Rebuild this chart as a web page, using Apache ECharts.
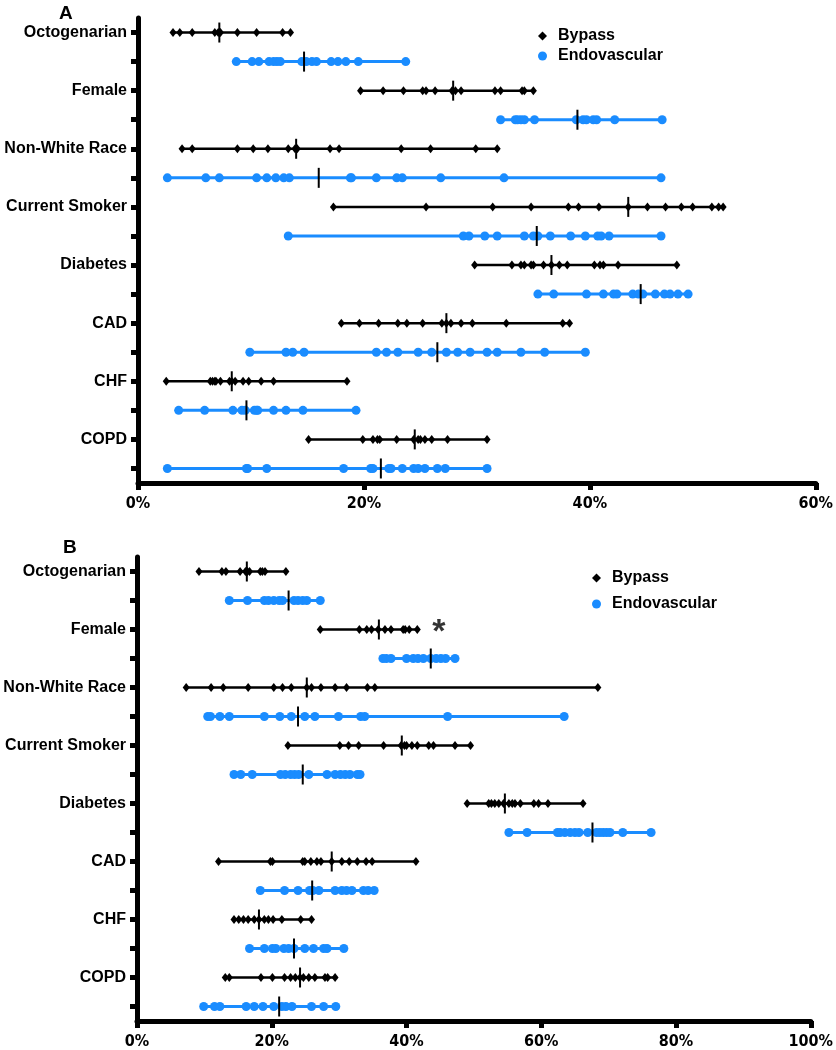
<!DOCTYPE html>
<html><head><meta charset="utf-8">
<script src="https://cdn.jsdelivr.net/npm/echarts@6/dist/echarts.min.js"></script>
<style>html,body{margin:0;padding:0;background:#fff}#c{width:836px;height:1050px}</style>
</head><body><div id="c"></div><script>
const categories = ['Octogenarian','Female','Non-White Race','Current Smoker','Diabetes','CAD','CHF','COPD'];
const groups = ['Bypass','Endovascular'];
const xTicksA = [0, 20, 40, 60];
const xTicksB = [0, 20, 40, 60, 80, 100];

// Panel A values (%), one array per category
const bypassA = [
  [3.1, 3.7, 4.8, 6.8, 7.1, 7.3, 8.8, 10.5, 12.8, 13.5],
  [19.7, 21.7, 23.5, 25.2, 25.5, 26.3, 27.8, 28.1, 28.6, 31.6, 32.1, 34.0, 34.2, 35.0],
  [3.9, 4.8, 8.8, 10.2, 11.5, 13.3, 13.9, 14.1, 17.0, 17.8, 23.3, 25.9, 29.9, 31.8],
  [17.3, 25.5, 31.4, 34.8, 38.1, 39.0, 40.8, 43.4, 45.1, 46.7, 48.1, 49.1, 50.8, 51.4, 51.8],
  [29.8, 33.1, 33.9, 34.2, 34.8, 35.0, 35.9, 36.6, 37.3, 38.0, 40.4, 40.9, 41.2, 42.5, 47.7],
  [18.0, 19.6, 21.3, 23.0, 23.8, 25.2, 26.9, 27.3, 27.7, 28.6, 29.6, 32.6, 37.6, 38.2],
  [2.5, 6.4, 6.6, 6.8, 6.9, 7.3, 8.1, 8.3, 8.6, 9.3, 9.8, 10.9, 12.0, 18.5],
  [15.1, 19.9, 20.8, 21.2, 21.4, 22.9, 24.4, 24.8, 25.0, 25.4, 26.0, 27.4, 30.9]
];
const endoA = [
  [8.7, 10.1, 10.7, 11.6, 12.0, 12.3, 12.6, 14.5, 14.9, 15.4, 15.8, 17.1, 17.7, 18.4, 19.5, 23.7],
  [32.1, 33.4, 33.6, 33.9, 34.2, 35.1, 38.8, 39.4, 39.7, 40.3, 40.6, 42.2, 46.4],
  [2.6, 6.0, 7.2, 10.5, 11.4, 12.2, 12.9, 13.4, 18.8, 18.9, 21.1, 22.9, 23.4, 26.8, 32.4, 46.3],
  [13.3, 28.8, 29.3, 30.7, 31.8, 34.2, 35.0, 35.4, 36.5, 38.3, 39.6, 40.7, 41.0, 41.7, 46.3],
  [35.4, 36.8, 39.7, 41.2, 42.1, 42.4, 43.8, 44.3, 44.7, 45.8, 46.6, 47.1, 47.8, 48.7],
  [9.9, 13.1, 13.7, 14.7, 21.1, 22.0, 23.0, 24.8, 26.0, 27.3, 28.3, 29.4, 30.9, 31.8, 33.9, 36.0, 39.6],
  [3.6, 5.9, 8.4, 9.2, 9.5, 10.3, 10.5, 10.6, 12.0, 13.1, 14.6, 19.3],
  [2.6, 9.6, 9.7, 11.4, 18.2, 20.6, 20.8, 22.2, 22.4, 23.4, 24.4, 24.8, 25.4, 26.5, 27.2, 30.9]
];
const medianBypassA = [7.2, 27.9, 14.0, 43.4, 36.6, 27.3, 8.3, 24.5];
const medianEndoA = [14.7, 38.9, 16.0, 35.3, 44.5, 26.5, 9.6, 21.5];

// Panel B values (%)
const bypassB = [
  [9.2, 12.6, 13.2, 15.3, 16.1, 16.4, 16.7, 18.3, 18.6, 19.0, 22.1],
  [27.2, 33.0, 34.1, 34.8, 35.8, 36.8, 37.7, 39.5, 39.8, 40.4, 41.6],
  [7.3, 11.0, 12.8, 16.5, 20.3, 21.6, 22.9, 25.2, 25.9, 27.3, 29.4, 31.1, 34.2, 35.3, 68.4],
  [22.4, 30.1, 31.4, 32.9, 36.6, 39.2, 39.7, 40.0, 40.8, 41.6, 43.3, 44.0, 47.2, 49.5],
  [49.0, 52.2, 52.6, 53.1, 53.7, 54.4, 55.2, 55.7, 56.1, 56.9, 58.9, 59.6, 61.0, 66.2],
  [12.1, 19.8, 20.1, 24.6, 24.9, 25.8, 26.7, 27.3, 28.9, 30.4, 31.5, 32.7, 34.0, 34.9, 41.4],
  [14.4, 15.1, 15.8, 16.5, 17.4, 18.1, 18.9, 19.5, 20.2, 21.5, 24.3, 25.9],
  [13.1, 13.7, 18.4, 20.1, 21.9, 22.8, 23.5, 24.2, 24.7, 25.5, 26.4, 27.9, 28.3, 29.4]
];
const endoB = [
  [13.7, 16.4, 18.9, 19.5, 20.3, 21.1, 21.6, 23.3, 23.9, 24.6, 25.2, 27.2],
  [36.5, 37.0, 37.7, 40.0, 41.0, 41.7, 42.5, 43.6, 44.4, 45.1, 45.8, 47.2],
  [10.5, 10.9, 12.3, 13.7, 18.9, 21.2, 22.9, 24.9, 26.4, 29.9, 33.2, 33.8, 46.1, 63.4],
  [14.4, 15.4, 17.1, 21.3, 22.0, 22.8, 23.4, 24.0, 25.5, 28.2, 29.4, 30.2, 30.9, 31.6, 32.7, 33.1],
  [55.2, 57.9, 62.4, 62.8, 63.5, 64.3, 65.0, 65.6, 66.9, 68.2, 68.7, 69.2, 69.7, 70.2, 72.1, 76.3],
  [18.3, 21.9, 23.9, 25.6, 26.1, 27.0, 29.4, 30.4, 31.1, 31.9, 33.6, 34.3, 35.2],
  [16.7, 18.9, 20.1, 20.6, 21.8, 22.5, 23.3, 24.9, 26.2, 27.7, 28.2, 30.7],
  [9.9, 11.5, 12.3, 16.2, 17.4, 18.7, 20.3, 21.5, 22.1, 23.0, 25.9, 27.7, 29.5]
];
const medianBypassB = [16.3, 35.9, 25.2, 39.3, 54.6, 28.9, 18.1, 24.2];
const medianEndoB = [22.5, 43.6, 23.9, 24.6, 67.6, 26.0, 23.3, 21.1];

// significance marker (panel B): [value, category]
const starB = [[44.8, 'Female']];

const FONT = "'Liberation Sans', Arial, Helvetica, sans-serif";
const NARROW = "'Liberation Sans Narrow', 'Arial Narrow', 'DejaVu Sans Condensed', sans-serif";
const BLUE = '#1a8cff';

const rowNames = categories.flatMap(c => groups.map(g => c + '|' + g));
const rowIndex = (ci, gi) => ci * 2 + gi;

function yAxisFor(p) {
  return {
    type: 'category', gridIndex: p, data: rowNames, inverse: true, boundaryGap: true,
    axisLine: { show: true, lineStyle: { color: '#000', width: 5 } },
    axisTick: { show: true, alignWithLabel: true, interval: 0, length: 7, lineStyle: { color: '#000', width: 5 } },
    axisLabel: {
      interval: 0, margin: 11, color: '#000', fontSize: 16, fontWeight: 'bold', fontFamily: FONT,
      formatter: v => v.endsWith('|Bypass') ? v.split('|')[0] : ''
    },
    splitLine: { show: false }
  };
}
function xAxisFor(p, ticks) {
  return {
    type: 'value', gridIndex: p, min: ticks[0], max: ticks[ticks.length - 1], interval: ticks[1] - ticks[0],
    axisLine: { show: true, lineStyle: { color: '#000', width: 5 } },
    axisTick: { show: true, length: 7, lineStyle: { color: '#000', width: 5 } },
    axisLabel: { margin: 13, color: '#000', fontSize: 16, fontWeight: 'bold', fontFamily: NARROW, formatter: '{value}%' },
    splitLine: { show: false }
  };
}

function panelSeries(p, bypass, endo, medB, medE) {
  const specs = [
    { name: 'Bypass', vals: bypass, med: medB, color: '#000', symbol: 'diamond', size: [7, 9], lw: 2.5 },
    { name: 'Endovascular', vals: endo, med: medE, color: BLUE, symbol: 'circle', size: 9, lw: 3 }
  ];
  const out = [];
  specs.forEach((s, gi) => {
    out.push({
      type: 'custom', name: s.name + ' range', xAxisIndex: p, yAxisIndex: p, z: 2, silent: true,
      data: s.vals.map((arr, ci) => [Math.min(...arr), Math.max(...arr), rowIndex(ci, gi)]),
      encode: { x: [0, 1], y: 2 },
      renderItem: (params, api) => {
        const a = api.coord([api.value(0), api.value(2)]);
        const b = api.coord([api.value(1), api.value(2)]);
        return { type: 'line', shape: { x1: a[0], y1: a[1], x2: b[0], y2: b[1] }, style: { stroke: s.color, lineWidth: s.lw } };
      }
    });
    out.push({
      type: 'scatter', name: s.name, xAxisIndex: p, yAxisIndex: p, z: 3, silent: true,
      symbol: s.symbol, symbolSize: s.size, itemStyle: { color: s.color, opacity: 1 },
      data: s.vals.flatMap((arr, ci) => arr.map(v => [v, rowIndex(ci, gi)]))
    });
    out.push({
      type: 'custom', name: s.name + ' median', xAxisIndex: p, yAxisIndex: p, z: 4, silent: true,
      data: s.med.map((m, ci) => [m, rowIndex(ci, gi)]),
      encode: { x: 0, y: 1 },
      renderItem: (params, api) => {
        const c = api.coord([api.value(0), api.value(1)]);
        return { type: 'line', shape: { x1: c[0], y1: c[1] - 10, x2: c[0], y2: c[1] + 10 }, style: { stroke: '#000', lineWidth: 2 } };
      }
    });
  });
  return out;
}

const legendBase = {
  orient: 'vertical', itemWidth: 9, itemHeight: 9, selectedMode: false,
  data: [{ name: 'Bypass', icon: 'diamond' }, { name: 'Endovascular', icon: 'circle' }],
  textStyle: { fontSize: 16, fontWeight: 'bold', color: '#000', fontFamily: FONT, lineHeight: 16, padding: [0, 0, 0, 6] }
};

const series = [
  ...panelSeries(0, bypassA, endoA, medianBypassA, medianEndoA),
  ...panelSeries(1, bypassB, endoB, medianBypassB, medianEndoB),
  {
    type: 'scatter', name: 'significance', xAxisIndex: 1, yAxisIndex: 1, symbolSize: 0, silent: true, z: 5,
    data: starB.map(d => [d[0], rowIndex(categories.indexOf(d[1]), 0)]),
    label: { show: true, formatter: '*', position: 'inside', fontSize: 34, fontWeight: 'bold', color: '#000', fontFamily: FONT, offset: [0, 3] }
  }
];

const option = {
  animation: false,
  backgroundColor: '#fff',
  title: [
    { text: 'A', left: 59, top: 4, padding: 0, textStyle: { fontSize: 19, fontWeight: 'bold', color: '#000', fontFamily: FONT } },
    { text: 'B', left: 63, top: 538, padding: 0, textStyle: { fontSize: 19, fontWeight: 'bold', color: '#000', fontFamily: FONT } }
  ],
  legend: [
    Object.assign({}, legendBase, { left: 533, top: 23, itemGap: 4 }),
    Object.assign({}, legendBase, { left: 587, top: 565, itemGap: 10 })
  ],
  grid: [
    { left: 138, right: 20, top: 18, height: 465 },
    { left: 137, right: 20, top: 557, height: 466 }
  ],
  xAxis: [xAxisFor(0, xTicksA), xAxisFor(1, xTicksB)],
  yAxis: [yAxisFor(0), yAxisFor(1)],
  series
};

const chart = echarts.init(document.getElementById('c'), null, { renderer: 'canvas' });
chart.setOption(option);
</script></body></html>
